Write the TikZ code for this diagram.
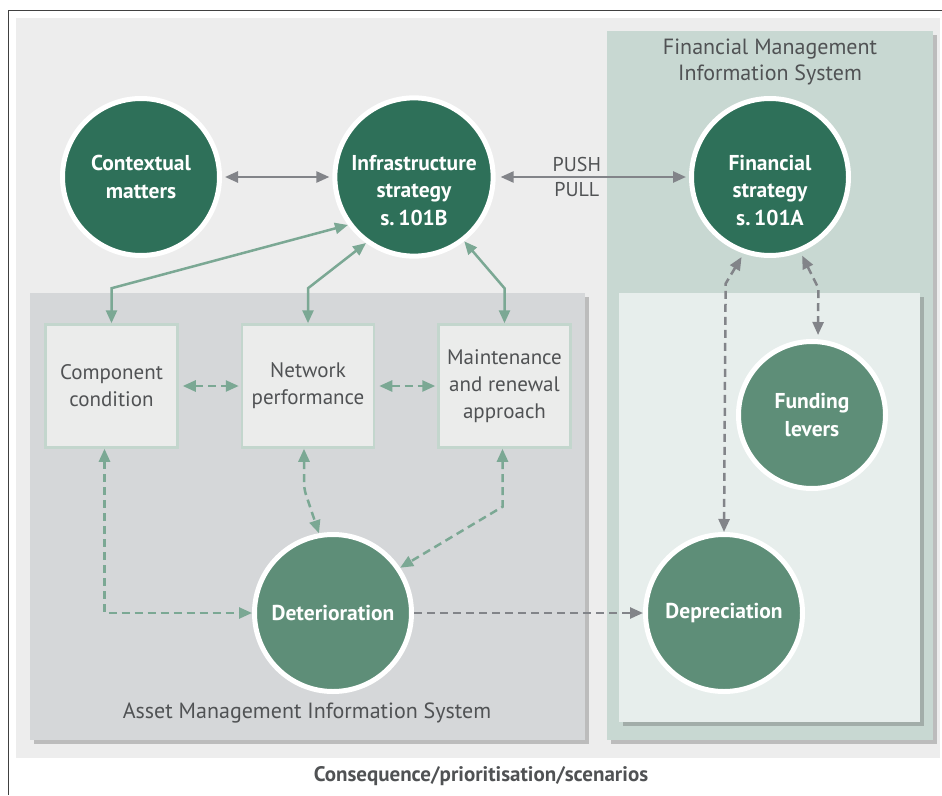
\documentclass[tikz,border=0pt]{standalone}
\usepackage{fontspec}
\setmainfont{PT Sans}
\usepackage{xcolor}
\usepackage{tikz}
\definecolor{deepgreen}{HTML}{2E7059}
\definecolor{softgreen}{HTML}{5E8E78}
\definecolor{linkgreen}{HTML}{7BA894}
\definecolor{linkgrey}{HTML}{828489}
\definecolor{pagegrey}{HTML}{EDEDED}
\definecolor{amisgrey}{HTML}{D5D7D9}
\definecolor{fmisgreen}{HTML}{C8D8D2}
\definecolor{innergreen}{HTML}{E7EEEC}
\definecolor{boxfill}{HTML}{EBECEB}
\definecolor{boxline}{HTML}{C3D6CD}
\definecolor{labelgrey}{HTML}{505254}
\usetikzlibrary{arrows.meta, positioning, calc, shadows}

\begin{document}
\begin{tikzpicture}[
    x=1pt, y=-1pt,
    >={Triangle[length=13pt, width=11pt]},
    hub/.style={circle, draw=white, line width=5pt, minimum size=157pt, inner sep=0pt, text=white, align=center, font=\bfseries\fontsize{21.5}{27.5}\selectfont},
    factorbox/.style={rectangle, draw=boxline, fill=boxfill, line width=2.5pt, minimum width=132pt, minimum height=123pt, inner sep=0pt, align=center, text=labelgrey, font=\fontsize{21}{27}\selectfont},
    panelshadow/.style={drop shadow={shadow xshift=4pt, shadow yshift=-4pt, opacity=0.3, fill=black!70}},
    greylink/.style={<->, line width=2.5pt, linkgrey, shorten <=3pt, shorten >=3pt},
    greenlink/.style={<->, line width=2.5pt, linkgreen},
    dotlink/.style={dash pattern=on 8pt off 5pt},
    paneltext/.style={text=labelgrey, align=center, font=\fontsize{22}{26}\selectfont}
]
    \useasboundingbox (0,0) rectangle (942,795);
    % frame and page
    \draw[line width=1pt, black!75] (8,795) -- (8,10) -- (942,10);
    \fill[pagegrey] (16,18) rectangle (940,758);

    % information system panels
    \fill[amisgrey, panelshadow] (30,293) rectangle (585,740);
    \fill[fmisgreen, panelshadow] (607,31) rectangle (933,740);
    \fill[innergreen, panelshadow] (619,293) rectangle (920,722);
    \node[paneltext] (amis) at (307,713) {Asset Management Information System};
    \node[paneltext] (fmis) at (770,62) {Financial Management\\Information System};

    % strategy circles
    \node[hub, fill=deepgreen] (context) at (141,177) {Contextual\\matters};
    \node[hub, fill=deepgreen] (infra) at (414,177) {\\[14pt]Infrastructure\\strategy\\s.\,101B};
    \node[hub, fill=deepgreen] (fin) at (770,177) {\\[14pt]Financial\\strategy\\s.\,101A};
    \node[hub, fill=softgreen, minimum size=147pt] (fund) at (812,415) {Funding\\levers};
    \node[hub, fill=softgreen] (deter) at (333,613) {Deterioration};
    \node[hub, fill=softgreen] (dep) at (724,613) {Depreciation};

    % asset boxes
    \node[factorbox] (comp) at (111.5,386) {Component\\condition};
    \node[factorbox, right=62pt of comp] (net) {Network\\performance};
    \node[factorbox, right=62pt of net] (maint) {Maintenance\\and renewal\\approach};

    % links
    \draw[greylink] (context) -- (infra);
    \draw[greylink, shorten <=5pt] (infra) -- (fin)
        node[pos=0.42, above=1pt, paneltext, font=\fontsize{20}{22}\selectfont] (push) {PUSH}
        node[pos=0.42, below=1pt, paneltext, font=\fontsize{20}{22}\selectfont] (pull) {PULL};

    \draw[greenlink] (infra.216.7) -- ($(comp.north)+(0,-35)$) -- (comp.north);
    \draw[greenlink] (infra.234) -- ($(net.north)+(0,-35)$) -- (net.north);
    \draw[greenlink] (infra.308.5) -- ($(maint.north)+(0,-35)$) -- (maint.north);

    \draw[greenlink, dotlink, shorten <=4pt, shorten >=2pt] (comp) -- (net);
    \draw[greenlink, dotlink, shorten <=4pt, shorten >=2pt] (net) -- (maint);

    \draw[greenlink, dotlink] ([xshift=-7pt]comp.south) |- (deter.west);
    \draw[greenlink, dotlink, rounded corners=6pt] ([xshift=-4pt]net.south) -- ++(0,40) -- (deter.100);
    \draw[greenlink, dotlink] ([xshift=-2pt]maint.south) -- ++(0,58) -- (deter.34);

    \draw[greylink, dotlink, <->, shorten <=4pt, shorten >=0pt] (fin.251) -- ++(-18,30) -- (dep.north);
    \draw[greylink, dotlink, <->, shorten <=4pt, shorten >=4pt] (fin.292) -- ++(18,36) -- ([xshift=6pt]fund.north);
    \draw[greylink, dotlink, ->, shorten <=0pt, shorten >=0pt] (deter) -- (dep);

    % caption
    \node[text=labelgrey, font=\bfseries\fontsize{21}{24}\selectfont] (caption) at (481,776) {Consequence/prioritisation/scenarios};
\end{tikzpicture}
\end{document}
